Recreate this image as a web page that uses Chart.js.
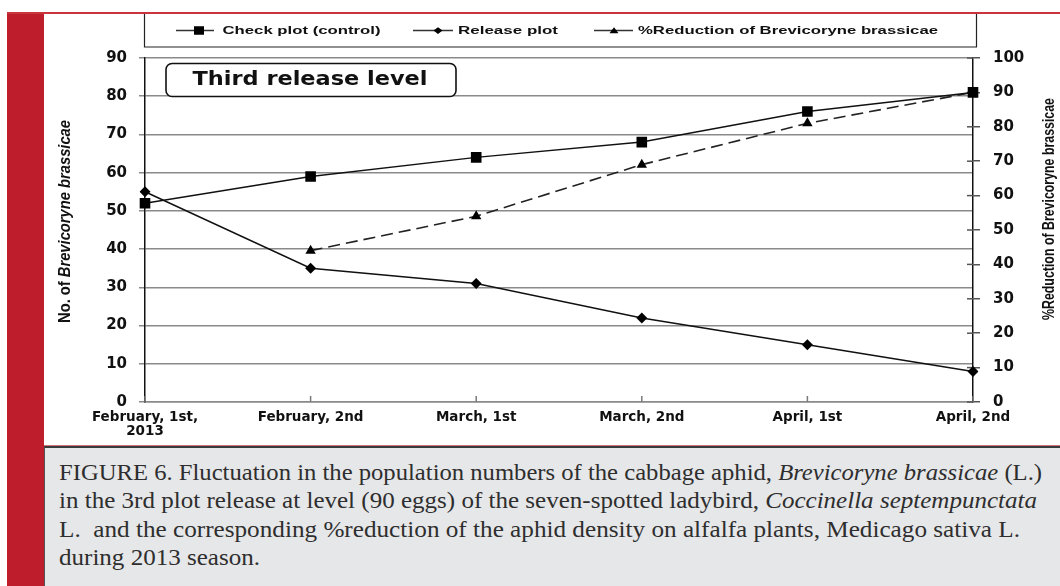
<!DOCTYPE html>
<html><head><meta charset="utf-8">
<script src="https://cdn.jsdelivr.net/npm/chart.js@4.4.1/dist/chart.umd.min.js"></script>
<style>
html,body{margin:0;padding:0;background:#fff;}
body{width:1060px;height:586px;position:relative;overflow:hidden;}
#redbar{position:absolute;left:7px;top:12px;width:37px;height:574px;background:#be1e2b;}
#redtop{position:absolute;left:7px;top:12px;width:1053px;height:2px;background:#c9343d;}
#plotbg{position:absolute;left:44px;top:14px;width:1016px;height:431px;background:#fff;}
#capline{position:absolute;left:44px;top:445px;width:1016px;height:1px;background:#d0747a;}
#cap{position:absolute;left:44px;top:446px;width:1016px;height:140px;background:#e6e7e9;border-top:2px solid #3a3a3a;border-left:1px solid #555;box-sizing:border-box;}
.cl{position:absolute;left:14px;white-space:pre;font-family:"Liberation Serif","Times New Roman",serif;font-size:23px;color:#2e2e2e;transform-origin:0 0;line-height:1;}
#c{position:absolute;left:0;top:0;}
</style></head>
<body>
<div id="redbar"></div><div id="redtop"></div><div id="plotbg"></div><div id="capline"></div>
<div id="cap">
<div class="cl" id="l1" style="top:12.7px">FIGURE 6. Fluctuation in the population numbers of the cabbage aphid, <i>Brevicoryne brassicae</i> (L.)</div>
<div class="cl" id="l2" style="top:41.2px">in the 3rd plot release at level (90 eggs) of the seven-spotted ladybird, <i>Coccinella septempunctata</i></div>
<div class="cl" id="l3" style="top:69.7px">L.  and the corresponding %reduction of the aphid density on alfalfa plants, Medicago sativa L.</div>
<div class="cl" id="l4" style="top:98.2px">during 2013 season.</div>
</div>
<canvas id="c" width="1060" height="446"></canvas>
<script>
// ---- data ----
const categories = [['February, 1st,', '2013'], 'February, 2nd', 'March, 1st', 'March, 2nd', 'April, 1st', 'April, 2nd'];
const seriesNames = ['Check plot (control)', 'Release plot', '%Reduction of Brevicoryne brassicae'];
const checkPlot = [52, 59, 64, 68, 76, 81];
const releasePlot = [55, 35, 31, 22, 15, 8];
const reductionPct = [null, 44, 54, 69, 81, 90];
const leftAxisRange = [0, 90];
const rightAxisRange = [0, 100];
const tickStep = 10;
const leftAxisTitle = ['No. of ', 'Brevicoryne brassicae'];
const rightAxisTitle = '%Reduction of Brevicoryne brassicae';
const boxTitle = 'Third release level';

// caption fitting
[['l1', 983], ['l2', 978], ['l3', 961], ['l4', 201]].forEach(([id, w]) => {
  const el = document.getElementById(id);
  const cw = el.getBoundingClientRect().width;
  el.style.transform = 'scaleX(' + (w / cw) + ')';
});

function fitText(ctx, parts, cx, cy, width, rot) {
  ctx.save();
  let total = 0;
  parts.forEach(p => { ctx.font = p.font; p.w = ctx.measureText(p.t).width; total += p.w; });
  ctx.translate(cx, cy);
  if (rot) ctx.rotate(rot);
  ctx.scale(width / total, 1);
  ctx.textBaseline = 'middle';
  ctx.textAlign = 'left';
  ctx.fillStyle = '#111';
  let x = -total / 2;
  parts.forEach(p => { ctx.font = p.font; ctx.fillText(p.t, x, 0); x += p.w; });
  ctx.restore();
}

function marker(ctx, style, x, y, s) {
  ctx.beginPath();
  if (style === 'rect') ctx.rect(x - s, y - s * 0.85, 2 * s, 1.7 * s);
  else if (style === 'rectRot') { ctx.moveTo(x - s, y); ctx.lineTo(x, y - s * 0.75); ctx.lineTo(x + s, y); ctx.lineTo(x, y + s * 0.75); ctx.closePath(); }
  else { ctx.moveTo(x - s, y + s * 0.6); ctx.lineTo(x, y - s * 0.7); ctx.lineTo(x + s, y + s * 0.6); ctx.closePath(); }
  ctx.fill();
}

const decor = {
  id: 'decor',
  beforeDatasetsDraw(chart) {
    const ctx = chart.ctx, xs = chart.scales.x, a = chart.chartArea, y1 = chart.scales.y1;
    ctx.save();
    ctx.strokeStyle = '#7a7a7a'; ctx.lineWidth = 1.5;
    xs.ticks.forEach((t, i) => {
      const px = xs.getPixelForTick(i);
      ctx.beginPath(); ctx.moveTo(px, a.bottom); ctx.lineTo(px, a.bottom - 6); ctx.stroke();
    });
    ctx.strokeStyle = '#555';
    y1.ticks.forEach((t, i) => {
      const py = y1.getPixelForTick(i);
      ctx.beginPath(); ctx.moveTo(a.right - 6, py); ctx.lineTo(a.right, py); ctx.stroke();
    });
    ctx.restore();
  },
  afterDraw(chart) {
    const ctx = chart.ctx;
    ctx.save();
    // legend box
    ctx.fillStyle = '#fff';
    ctx.fillRect(144, 14, 833, 33);
    ctx.strokeStyle = '#222'; ctx.lineWidth = 1.2;
    ctx.beginPath(); ctx.moveTo(144.5, 14); ctx.lineTo(144.5, 47); ctx.lineTo(976.5, 47); ctx.lineTo(976.5, 14); ctx.stroke();
    const items = [
      {l1: 176, l2: 214, m: 199, s: 5, tx: 222.5, tw: 158},
      {l1: 413, l2: 453, m: 438, s: 4.5, tx: 458, tw: 100},
      {l1: 594, l2: 633, m: 614, s: 4.5, tx: 638, tw: 300}
    ];
    chart.data.datasets.forEach((ds, i) => {
      const it = items[i], y = 30.5;
      ctx.strokeStyle = '#333'; ctx.lineWidth = 1.5; ctx.setLineDash([]);
      ctx.beginPath(); ctx.moveTo(it.l1, y); ctx.lineTo(it.l2, y); ctx.stroke();
      ctx.fillStyle = '#000';
      marker(ctx, ds.pointStyle, it.m, y, it.s);
      fitText(ctx, [{t: ds.label, font: 'bold 11px "Liberation Sans", Arial, sans-serif'}], it.tx + it.tw / 2, y, it.tw, 0);
    });
    // title box
    ctx.fillStyle = '#fff';
    ctx.strokeStyle = '#111'; ctx.lineWidth = 1.6;
    ctx.beginPath();
    if (ctx.roundRect) ctx.roundRect(166, 63.5, 290, 33, 6); else ctx.rect(166, 63.5, 290, 33);
    ctx.fill(); ctx.stroke();
    fitText(ctx, [{t: boxTitle, font: 'bold 19px "DejaVu Sans", sans-serif'}], 310, 80, 235, 0);
    // axis titles
    fitText(ctx, [
      {t: leftAxisTitle[0], font: 'bold 16px "Liberation Sans Narrow", "Liberation Sans", sans-serif'},
      {t: leftAxisTitle[1], font: 'italic bold 16px "Liberation Sans Narrow", "Liberation Sans", sans-serif'}
    ], 65.5, 221.5, 203, -Math.PI / 2);
    fitText(ctx, [{t: rightAxisTitle, font: 'bold 16px "Liberation Sans Narrow", "Liberation Sans", sans-serif'}], 1050, 209, 222, -Math.PI / 2);
    ctx.restore();
  }
};

const tickFont = {family: '"DejaVu Sans", sans-serif', weight: 'bold', size: 15};
new Chart(document.getElementById('c'), {
  type: 'line',
  data: {
    labels: categories,
    datasets: [
      {label: seriesNames[0], data: checkPlot, yAxisID: 'y', borderColor: '#111', backgroundColor: '#000', borderWidth: 1.5,
       pointStyle: 'rect', pointRadius: 7.5, pointBackgroundColor: '#000', pointBorderColor: '#000', pointBorderWidth: 0, tension: 0},
      {label: seriesNames[1], data: releasePlot, yAxisID: 'y', borderColor: '#111', backgroundColor: '#000', borderWidth: 1.5,
       pointStyle: 'rectRot', pointRadius: 5.5, pointBackgroundColor: '#000', pointBorderColor: '#000', pointBorderWidth: 0, tension: 0},
      {label: seriesNames[2], data: reductionPct, yAxisID: 'y1', borderColor: '#222', backgroundColor: '#000', borderWidth: 1.6,
       borderDash: [12, 6], pointStyle: 'triangle', pointRadius: 6, pointBackgroundColor: '#000', pointBorderColor: '#000', pointBorderWidth: 0, tension: 0, spanGaps: false}
    ]
  },
  options: {
    responsive: false, animation: false, devicePixelRatio: 1,
    layout: {padding: {top: 58, left: 0, right: 0, bottom: 0}},
    plugins: {legend: {display: false}, tooltip: {enabled: false}, title: {display: false}},
    scales: {
      x: {
        type: 'category', offset: false,
        grid: {display: true, drawOnChartArea: false, drawTicks: false},
        border: {display: true, color: '#8a8a8a', width: 1.5},
        ticks: {font: {family: '"DejaVu Sans", sans-serif', weight: 'bold', size: 13.5, lineHeight: 1.0}, color: '#111', padding: 9, maxRotation: 0, autoSkip: false},
        afterFit(s) { s.height = 44; }
      },
      y: {
        position: 'left', min: leftAxisRange[0], max: leftAxisRange[1],
        ticks: {stepSize: tickStep, font: tickFont, color: '#111', padding: 12},
        grid: {color: '#8a8a8a', lineWidth: 1.5, tickLength: 6, drawTicks: true},
        border: {color: '#111', width: 1.5},
        afterFit(s) { s.width = 145; }
      },
      y1: {
        position: 'right', min: rightAxisRange[0], max: rightAxisRange[1],
        ticks: {stepSize: tickStep, font: tickFont, color: '#111', padding: 13},
        grid: {drawOnChartArea: false, color: '#555', lineWidth: 1.5, tickLength: 7, drawTicks: true},
        border: {color: '#111', width: 1.5},
        afterFit(s) { s.width = 87; }
      }
    }
  },
  plugins: [decor]
});
</script>
</body></html>
